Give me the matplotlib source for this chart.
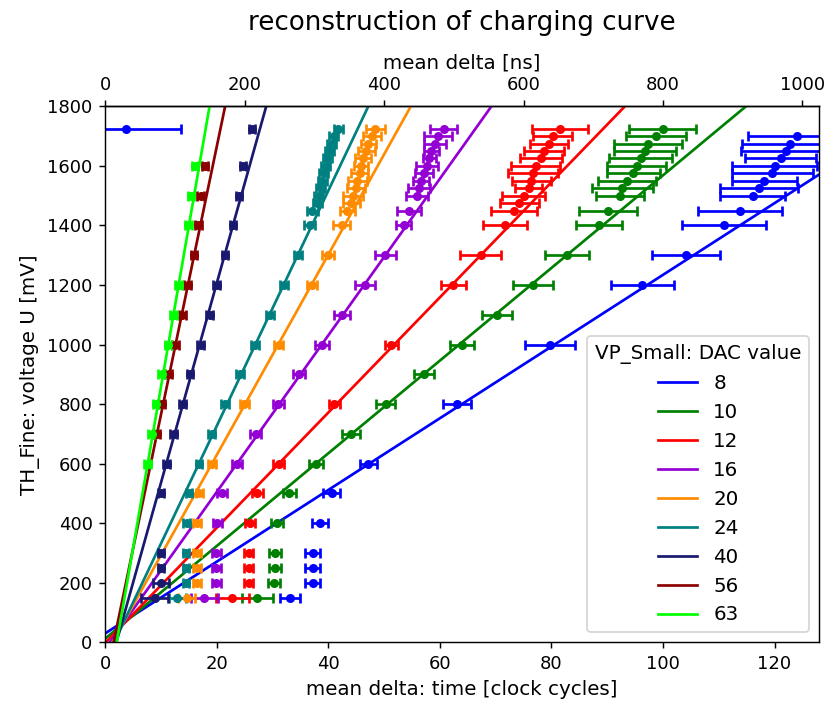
import matplotlib
matplotlib.use("Agg")
import matplotlib.pyplot as plt
import numpy as np

# DAC values and colours
dac_values = [8, 10, 12, 16, 20, 24, 40, 56, 63]
colors = ["blue", "green", "red", "darkviolet", "darkorange", "teal",
          "midnightblue", "darkred", "lime"]

# voltage [mV] of each measured point
u_8 = [150, 200, 250, 300, 400, 500, 600, 800, 1000, 1200, 1300, 1400, 1450,
       1500, 1525, 1550, 1575, 1600, 1625, 1650, 1675, 1700, 1725]
u_10 = [150, 200, 250, 300, 400, 500, 600, 700, 800, 900, 1000, 1100, 1200, 1300,
        1400, 1450, 1500, 1525, 1550, 1575, 1600, 1625, 1650, 1675, 1700, 1725]
u_12 = [150, 200, 250, 300, 400, 500, 600, 800, 1000, 1200, 1300, 1400, 1450,
        1475, 1500, 1525, 1550, 1575, 1600, 1625, 1650, 1675, 1700, 1725]
u_16 = [150, 200, 250, 300, 400, 500, 600, 700, 800, 900, 1000, 1100, 1200, 1300,
        1400, 1450, 1500, 1525, 1550, 1575, 1600, 1625, 1650, 1675, 1700, 1725]
u_20 = [150, 200, 250, 300, 400, 500, 600, 800, 1000, 1200, 1300, 1400, 1450,
        1475, 1500, 1525, 1550, 1575, 1600, 1625, 1650, 1675, 1700, 1725]
u_24 = [150, 200, 250, 300, 400, 500, 600, 700, 800, 900, 1000, 1100, 1200, 1300,
        1400, 1450, 1475, 1500, 1525, 1550, 1575, 1600, 1625, 1650, 1675, 1700, 1725]
u_40 = [150, 200, 250, 300, 500, 600, 700, 800, 900, 1000, 1100, 1200, 1300,
        1400, 1500, 1600, 1725]
u_56 = [700, 800, 900, 1000, 1100, 1200, 1300, 1400, 1500, 1600]
u_63 = [600, 700, 800, 900, 1000, 1100, 1200, 1400, 1500, 1600]

# mean delta [clock cycles]
t_8 = [33.2, 37.2, 37.2, 37.2, 38.5, 40.6, 47.2, 63.1, 79.8, 96.3, 104.1, 110.9, 113.8,
       116.1, 117.3, 118.2, 119.6, 120.0, 121.1, 122.1, 122.8, 124.1, 3.7]
t_10 = [27.3, 30.3, 30.5, 30.5, 30.8, 33.0, 37.8, 44.0, 50.3, 57.2, 64.0, 70.2, 76.7, 82.8,
        88.5, 90.2, 92.3, 92.7, 93.6, 94.7, 95.3, 96.0, 96.8, 97.3, 98.7, 100.0]
t_12 = [22.8, 25.7, 25.7, 25.7, 25.9, 27.3, 31.1, 41.1, 51.3, 62.4, 67.3, 71.7, 73.3,
        74.2, 75.0, 75.9, 76.4, 76.7, 77.2, 78.1, 78.7, 79.6, 80.2, 81.5]
t_16 = [17.8, 19.9, 19.9, 19.9, 20.1, 20.9, 23.6, 27.0, 31.0, 34.8, 38.9, 42.5, 46.6, 50.2,
        53.5, 54.5, 55.9, 56.2, 56.6, 57.2, 57.7, 58.1, 58.5, 59.1, 59.7, 60.7]
t_20 = [14.6, 16.4, 16.4, 16.4, 16.5, 16.9, 19.1, 24.9, 31.1, 37.0, 39.9, 42.4, 43.4,
        44.1, 44.4, 44.9, 45.2, 45.6, 45.9, 46.2, 46.8, 47.2, 47.8, 48.4]
t_24 = [12.9, 14.5, 14.5, 14.5, 14.6, 15.0, 16.8, 19.1, 21.5, 24.2, 26.8, 29.5, 32.1, 34.5,
        36.7, 37.1, 38.0, 38.3, 38.6, 38.9, 39.2, 39.5, 39.8, 40.2, 40.6, 41.0, 41.8]
t_40 = [8.9, 10.0, 10.0, 10.0, 10.0, 11.0, 12.3, 13.9, 15.2, 17.1, 18.7, 20.0, 21.5,
        22.9, 24.0, 24.7, 26.3]
t_56 = [9.2, 10.1, 11.4, 12.6, 13.8, 14.8, 15.9, 16.7, 17.1, 17.9]
t_63 = [7.6, 8.3, 9.1, 10.1, 11.3, 12.3, 13.2, 14.9, 15.4, 16.1]

# error on mean delta [clock cycles]
e_8 = [1.8, 1.3, 1.3, 1.3, 1.4, 1.5, 1.5, 2.5, 4.5, 5.7, 6.1, 7.5, 7.5,
       5.8, 7.0, 5.8, 7.3, 7.7, 6.4, 8.1, 8.7, 8.8, 9.8]
e_10 = [2.7, 1.1, 1.1, 1.1, 1.1, 1.2, 1.3, 1.6, 1.7, 1.8, 2.2, 2.7, 3.6, 3.9,
        4.1, 5.2, 4.3, 5.5, 5.2, 4.8, 5.3, 5.6, 5.6, 6.1, 5.4, 6.0]
e_12 = [3.0, 0.8, 0.8, 0.8, 0.9, 1.0, 1.0, 1.0, 1.2, 2.2, 3.6, 4.0, 4.2,
        3.5, 3.8, 2.4, 3.5, 4.5, 4.4, 3.8, 3.6, 3.4, 3.5, 5.0]
e_16 = [2.5, 0.8, 0.8, 0.8, 0.8, 0.9, 0.9, 1.0, 1.0, 1.1, 1.2, 1.4, 1.8, 1.9,
        1.4, 2.1, 1.9, 2.0, 1.5, 1.6, 2.0, 1.2, 1.3, 2.0, 2.5, 2.4]
e_20 = [1.5, 0.7, 0.7, 0.7, 0.7, 0.7, 0.7, 0.8, 0.8, 0.9, 1.1, 1.5, 1.3,
        1.5, 1.8, 1.6, 1.7, 1.5, 1.3, 1.4, 1.5, 1.4, 1.6, 1.7]
e_24 = [1.5, 0.6, 0.6, 0.6, 0.6, 0.6, 0.6, 0.6, 0.7, 0.7, 0.7, 0.7, 0.7, 0.7,
        1.0, 1.0, 0.8, 0.8, 0.8, 0.8, 0.8, 0.8, 0.8, 0.8, 0.8, 0.8, 0.8]
e_40 = [2.4, 1.4, 0.6, 0.6, 0.6, 0.6, 0.6, 0.6, 0.6, 0.6, 0.6, 0.6, 0.6,
        0.6, 0.6, 0.6, 0.6]
e_56 = [0.6, 0.6, 0.6, 0.6, 0.6, 0.6, 0.6, 0.6, 0.6, 0.6]
e_63 = [0.6, 0.6, 0.6, 0.6, 0.6, 0.6, 0.6, 0.6, 0.6, 0.6]

# linear fit: U = slope * (t - t0)
fit_slope = [12.04, 15.56, 19.34, 26.3, 33.65, 39.5, 67.0, 90.0, 108.2]
fit_t0 = [-2.5, -0.8, 0.1, 0.8, 1.3, 1.6, 2.0, 1.5, 2.07]

volts = [u_8, u_10, u_12, u_16, u_20, u_24, u_40, u_56, u_63]
times = [t_8, t_10, t_12, t_16, t_20, t_24, t_40, t_56, t_63]
errs = [e_8, e_10, e_12, e_16, e_20, e_24, e_40, e_56, e_63]

fig, ax = plt.subplots(figsize=(835 / 130, 709 / 130), dpi=130)
fig.subplots_adjust(left=0.126, right=0.981, top=0.850, bottom=0.094)

tt = np.linspace(-5, 135, 50)
for dac, col, u, t, e, m, t0 in zip(dac_values, colors, volts, times, errs, fit_slope, fit_t0):
    ax.errorbar(t, u, xerr=e, fmt="o", color=col, ms=4, capsize=3,
                elinewidth=1.5, capthick=1.5)
    ax.plot(tt, m * (tt - t0), color=col, lw=1.5, label=str(dac))

ax.set_xlim(0, 128)
ax.set_ylim(0, 1800)
ax.set_yticks(np.arange(0, 1801, 200))
ax.set_xlabel("mean delta: time [clock cycles]", fontsize=11)
ax.set_ylabel("TH_Fine: voltage U [mV]", fontsize=11)

top = ax.secondary_xaxis("top", functions=(lambda x: x * 8, lambda x: x / 8))
top.set_xlabel("mean delta [ns]", fontsize=11)

ax.set_title("reconstruction of charging curve", fontsize=14.5, pad=13)
ax.legend(title="VP_Small: DAC value", loc="lower right", fontsize=11,
          title_fontsize=11)

fig.savefig("out.png", dpi=130)
